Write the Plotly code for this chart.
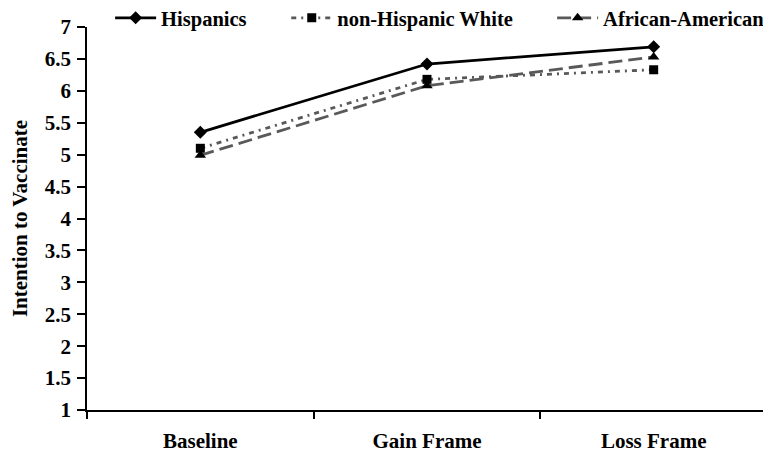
import plotly.graph_objects as go

categories = ["Baseline", "Gain Frame", "Loss Frame"]
hispanics = [5.35, 6.42, 6.69]
white = [5.10, 6.18, 6.33]
african_american = [4.99, 6.08, 6.53]
y_ticks = [1, 1.5, 2, 2.5, 3, 3.5, 4, 4.5, 5, 5.5, 6, 6.5, 7]
y_tick_labels = ["1", "1.5", "2", "2.5", "3", "3.5", "4", "4.5", "5", "5.5", "6", "6.5", "7"]

FONT = "Liberation Serif"
GRAY = "#595959"

fig = go.Figure()
fig.add_trace(go.Scatter(
    x=categories, y=hispanics, name="Hispanics", mode="lines+markers",
    line=dict(color="black", width=2.8),
    marker=dict(symbol="diamond", size=10, color="black"),
    legend="legend",
))
fig.add_trace(go.Scatter(
    x=categories, y=white, name="non-Hispanic White", mode="lines+markers",
    line=dict(color=GRAY, width=2.8, dash="5px,5px,2px,5px"),
    marker=dict(symbol="square", size=9, color="black"),
    legend="legend2",
))
fig.add_trace(go.Scatter(
    x=categories, y=african_american, name="African-American", mode="lines+markers",
    line=dict(color=GRAY, width=2.8, dash="14px,6px"),
    marker=dict(symbol="triangle-up", size=10, color="black"),
    legend="legend3",
))

def leg(xpos):
    return dict(
        orientation="h", x=xpos, xanchor="left", y=1.0235, yanchor="middle",
        font=dict(family=FONT, size=20.5, color="black", weight="bold"),
        bgcolor="rgba(0,0,0,0)", borderwidth=0, itemwidth=41,
    )

# The page body has an 8px default margin, so the figure is 8px smaller.
fig.update_layout(
    width=763, height=452,
    margin=dict(l=79, r=4, t=19, b=50, autoexpand=False),
    paper_bgcolor="white", plot_bgcolor="white",
    font=dict(family=FONT, size=21, color="black"),
    showlegend=True,
    legend=leg(0.034),
    legend2=leg(0.293),
    legend3=leg(0.684),
    xaxis=dict(
        type="category", range=[-0.5, 2.5], showgrid=False, automargin=False,
        showline=True, linecolor="black", linewidth=1.5,
        ticks="outside", tickson="boundaries", ticklen=7, tickcolor="black", tickwidth=1.5,
        tickfont=dict(family=FONT, size=21, color="black", weight="bold"),
        ticklabelstandoff=11,
    ),
    yaxis=dict(
        range=[1, 7], showgrid=False, zeroline=False, automargin=False,
        showline=True, linecolor="black", linewidth=1.5,
        tickmode="array", tickvals=y_ticks, ticktext=y_tick_labels,
        ticks="outside", ticklen=8, tickcolor="black", tickwidth=1.5,
        tickfont=dict(family=FONT, size=21, color="black", weight="bold"),
        ticklabelstandoff=2,
        title=dict(text="Intention to Vaccinate", standoff=12,
                   font=dict(family=FONT, size=21, color="black", weight="bold")),
    ),
)

fig.write_html("out.html")
